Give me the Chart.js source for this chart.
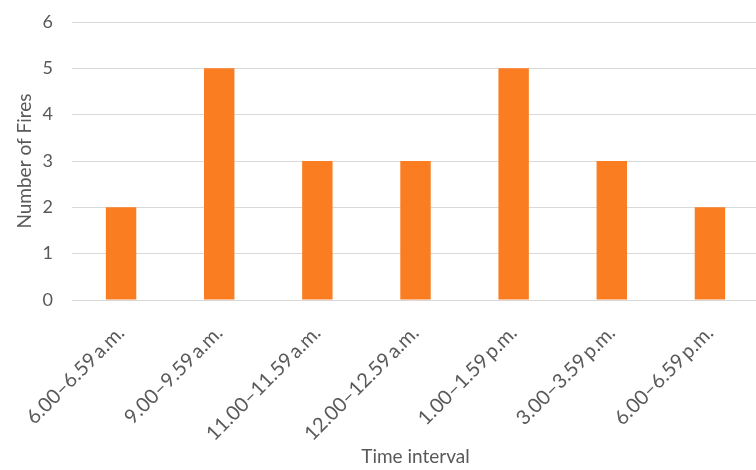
<!DOCTYPE html>
<html>
<head>
<meta charset="utf-8">
<script src="https://cdn.jsdelivr.net/npm/chart.js@4/dist/chart.umd.min.js"></script>
<style>
  html, body { margin: 0; padding: 0; background: #fff; overflow: hidden; }
  #wrap { width: 762px; height: 470px; }
</style>
</head>
<body>
<div id="wrap"><canvas id="c" width="762" height="470"></canvas></div>
<script>
// Fires per time interval
const intervals = [
  '6.00\u20136.59\u2009a.m.',
  '9.00\u20139.59\u2009a.m.',
  '11.00\u201311.59\u2009a.m.',
  '12.00\u201312.59\u2009a.m.',
  '1.00\u20131.59\u2009p.m.',
  '3.00\u20133.59\u2009p.m.',
  '6.00\u20136.59\u2009p.m.'
];
const fireCounts = [2, 5, 3, 3, 5, 3, 2];
const yTicks = [0, 1, 2, 3, 4, 5, 6];

const FONT = 'Lato, "Open Sans", sans-serif';
const TEXT = '#595959';

new Chart(document.getElementById('c'), {
  type: 'bar',
  data: {
    labels: intervals,
    datasets: [{
      data: fireCounts,
      backgroundColor: '#FB7D22',
      borderWidth: 0,
      categoryPercentage: 1,
      barPercentage: 0.31
    }]
  },
  options: {
    responsive: false,
    animation: false,
    devicePixelRatio: 1,
    layout: { padding: { top: 22, right: 3, bottom: 2, left: 0 } },
    plugins: { legend: { display: false }, tooltip: { enabled: false } },
    scales: {
      x: {
        grid: { display: false, drawTicks: false },
        border: { display: false },
        ticks: {
          color: TEXT,
          font: { family: FONT, size: 20 },
          minRotation: 45,
          maxRotation: 45,
          padding: 21
        },
        title: {
          display: true,
          text: 'Time interval',
          color: TEXT,
          font: { family: FONT, size: 19 },
          padding: { top: 4, bottom: 0 }
        },
        afterFit: s => { s.height = 168; }
      },
      y: {
        min: 0,
        max: 6,
        afterBuildTicks: s => { s.ticks = yTicks.map(v => ({ value: v })); },
        grid: { color: '#D9D9D9', lineWidth: 1, drawTicks: false },
        border: { display: false },
        ticks: {
          color: TEXT,
          font: { family: FONT, size: 18 },
          padding: 19
        },
        title: {
          display: true,
          text: 'Number of Fires',
          color: TEXT,
          font: { family: FONT, size: 19 },
          padding: { top: 13, bottom: 0 }
        },
        afterFit: s => {
          s.width = 72;
          // the plot top is set by layout padding alone
          s.paddingTop = 0;
          s.paddingBottom = 0;
        }
      }
    }
  }
});
</script>
</body>
</html>
